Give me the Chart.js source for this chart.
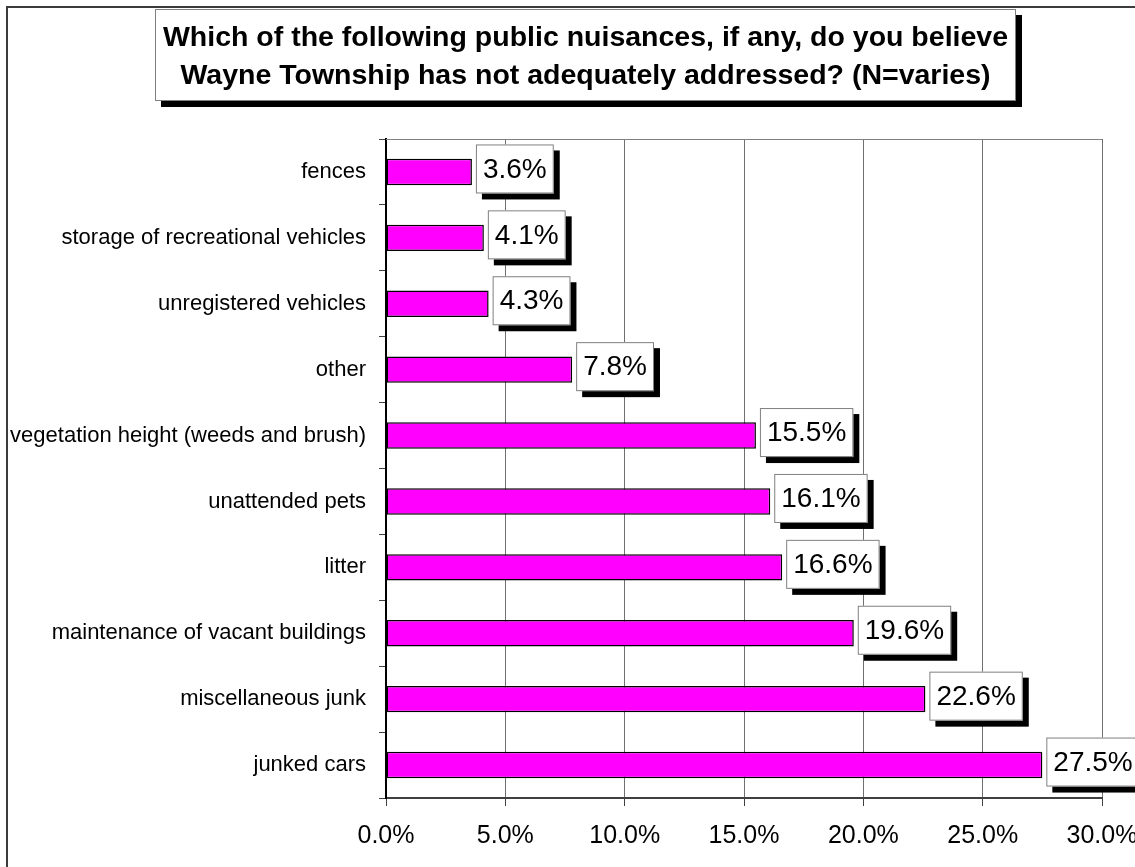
<!DOCTYPE html>
<html>
<head>
<meta charset="utf-8">
<script src="https://cdn.jsdelivr.net/npm/chart.js@4/dist/chart.umd.min.js"></script>
<style>
  body { margin: 0; background: #fff; }
  #wrap { position: relative; width: 1135px; height: 867px; overflow: hidden; }
  #frame { position: absolute; left: 6px; top: 6px; width: 1300px; height: 1000px; border: 2px solid #3c3c3c; }
  #chart { position: absolute; left: 0; top: 0; }
  #title {
    position: absolute; left: 155px; top: 9px; width: 861px; height: 92px;
    box-sizing: border-box; border: 1px solid #808080; background: #fff;
    box-shadow: 6px 6px 0 #000;
    font: bold 28.5px "Liberation Sans", Arial, sans-serif; line-height: 38px;
    text-align: center; padding-top: 7px; color: #000; white-space: nowrap;
  }
</style>
</head>
<body>
<div id="wrap">
  <div id="frame"></div>
  <canvas id="chart" width="1135" height="867"></canvas>
  <div id="title">Which of the following public nuisances, if any, do you believe<br>Wayne Township has not adequately addressed? (N=varies)</div>
</div>
<script>
var categories = ["fences", "storage of recreational vehicles", "unregistered vehicles", "other",
  "vegetation height (weeds and brush)", "unattended pets", "litter",
  "maintenance of vacant buildings", "miscellaneous junk", "junked cars"];
var values = [3.6, 4.1, 4.3, 7.8, 15.5, 16.1, 16.6, 19.6, 22.6, 27.5];
var axisMin = 0;
var axisMax = 30;
var axisStep = 5;

var FONT = '"Liberation Sans", Arial, sans-serif';

// white boxes with black shadow next to each bar
var boxLabels = {
  id: "boxLabels",
  afterDatasetsDraw: function(chart) {
    var ctx = chart.ctx;
    var meta = chart.getDatasetMeta(0);
    ctx.save();
    ctx.font = "28px " + FONT;
    ctx.textBaseline = "middle";
    ctx.textAlign = "left";
    meta.data.forEach(function(bar, i) {
      var txt = values[i].toFixed(1) + "%";
      var w = ctx.measureText(txt).width + 14;
      var h = 49;
      var x = bar.x + 4;
      var y = bar.y - 3 - h / 2;
      ctx.fillStyle = "#000";
      ctx.fillRect(x + 6, y + 6, w, h);
      ctx.fillStyle = "#fff";
      ctx.fillRect(x, y, w, h);
      ctx.strokeStyle = "#808080";
      ctx.lineWidth = 1;
      ctx.strokeRect(x + 0.5, y + 0.5, w - 1, h - 1);
      ctx.fillStyle = "#000";
      ctx.fillText(txt, x + 7, y + h / 2 + 1);
    });
    ctx.restore();
  }
};

// top edge of the plot area
var topLine = {
  id: "topLine",
  beforeDatasetsDraw: function(chart) {
    var a = chart.chartArea;
    var ctx = chart.ctx;
    ctx.save();
    ctx.strokeStyle = "#808080";
    ctx.lineWidth = 1;
    ctx.beginPath();
    ctx.moveTo(a.left, a.top + 0.5);
    ctx.lineTo(a.right, a.top + 0.5);
    ctx.stroke();
    ctx.restore();
  }
};

new Chart(document.getElementById("chart"), {
  type: "bar",
  data: {
    labels: categories,
    datasets: [{
      data: values,
      backgroundColor: "#FF00FF",
      borderColor: "#000",
      borderWidth: 1.5,
      borderSkipped: false,
      barPercentage: 0.4,
      categoryPercentage: 1
    }]
  },
  options: {
    indexAxis: "y",
    responsive: false,
    animation: false,
    layout: { padding: { left: 0, top: 139, right: 33, bottom: 9 } },
    plugins: {
      legend: { display: false },
      title: { display: false },
      tooltip: { enabled: false }
    },
    scales: {
      x: {
        min: axisMin,
        max: axisMax,
        afterFit: function(s) { s.height = 60; s.paddingLeft = 0; s.paddingRight = 0; },
        ticks: {
          stepSize: axisStep,
          color: "#000",
          padding: 15,
          font: { family: FONT, size: 25 },
          callback: function(v) { return v.toFixed(1) + "%"; }
        },
        grid: { color: "#707070", lineWidth: 1, tickLength: 8, tickColor: "#404040" },
        border: { color: "#404040", width: 2 }
      },
      y: {
        afterFit: function(s) { s.width = 386; s.paddingTop = 0; s.paddingBottom = 0; },
        ticks: {
          color: "#000",
          padding: 13,
          font: { family: FONT, size: 22 }
        },
        grid: { offset: true, drawOnChartArea: false, tickLength: 7, tickColor: "#404040" },
        border: { color: "#000", width: 2 }
      }
    }
  },
  plugins: [topLine, boxLabels]
});
</script>
</body>
</html>
